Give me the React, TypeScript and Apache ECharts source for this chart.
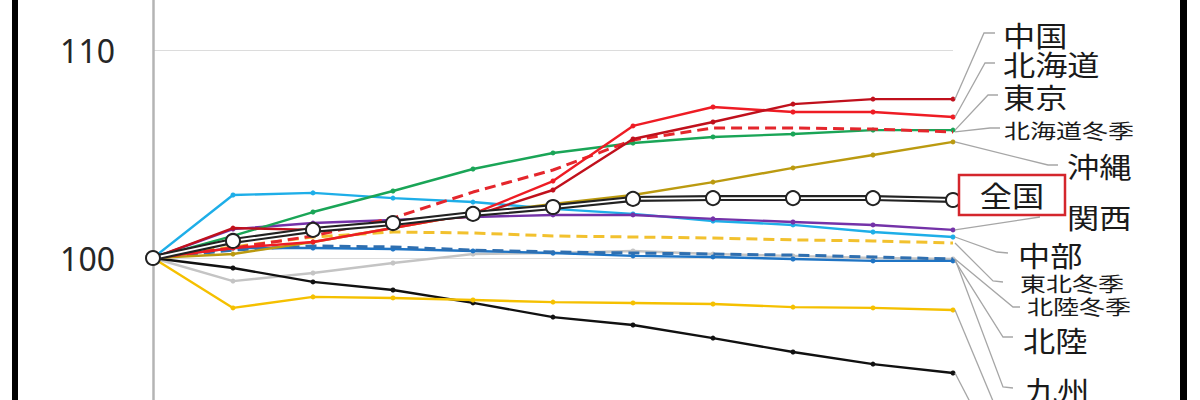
import { useEffect, useRef } from "react";
import * as echarts from "echarts";

// Index steps along the x axis (start = 100)
const steps = ["0", "1", "2", "3", "4", "5", "6", "7", "8", "9", "10"];

// Y axis labels that are shown
const yTickLabels = [100, 110];

// Index values per area
const chugoku = [100, 101.44, 101.35, 101.63, 102.02, 103.27, 105.72, 106.54, 107.4, 107.64, 107.64];
const hokkaido = [100, 100.48, 100.77, 101.44, 102.12, 103.7, 106.35, 107.26, 107.02, 107.02, 106.78];
const tokyo = [100, 101.06, 102.21, 103.22, 104.28, 105.05, 105.53, 105.82, 105.96, 106.15, 106.15];
const hokkaidoWinter = [100, 100.48, 101.06, 101.92, 103.17, 104.23, 105.67, 106.25, 106.25, 106.2, 106.06];
const okinawa = [100, 100.19, 100.77, 101.44, 102.12, 102.6, 103.03, 103.65, 104.33, 104.95, 105.58];
const zenkoku = [100, 100.82, 101.35, 101.68, 102.12, 102.45, 102.84, 102.88, 102.88, 102.88, 102.79];
const kansai = [100, 101.39, 101.68, 101.83, 101.97, 102.07, 102.07, 101.88, 101.73, 101.59, 101.35];
const chubu = [100, 103.03, 103.13, 102.88, 102.69, 102.36, 102.12, 101.78, 101.59, 101.25, 101.01];
const tohokuWinter = [100, 100.53, 101.01, 101.25, 101.2, 101.06, 101.01, 100.96, 100.87, 100.82, 100.72];
const hokurikuWinter = [100, 100.38, 100.58, 100.53, 100.38, 100.29, 100.24, 100.19, 100.14, 100.05, 99.95];
const hokuriku = [100, 100.48, 100.48, 100.43, 100.34, 100.24, 100.1, 100.05, 99.95, 99.86, 99.86];
const kyushu = [100, 98.89, 99.28, 99.76, 100.19, 100.24, 100.34, 100.19, 100.1, 100, 99.95];
const tohoku = [100, 97.6, 98.13, 98.08, 97.98, 97.88, 97.84, 97.79, 97.64, 97.6, 97.5];
const shikoku = [100, 99.52, 98.85, 98.46, 97.84, 97.16, 96.78, 96.15, 95.48, 94.9, 94.47];

type AreaLine = { name: string; data: number[]; color: string; dashed?: boolean };

// Drawing order: later entries sit on top
const areaLines: AreaLine[] = [
  { name: "九州", data: kyushu, color: "#c4c4c4" },
  { name: "四国", data: shikoku, color: "#111111" },
  { name: "東北", data: tohoku, color: "#f5c000" },
  { name: "北陸", data: hokuriku, color: "#1f74c4" },
  { name: "北陸冬季", data: hokurikuWinter, color: "#2f6fb0", dashed: true },
  { name: "東北冬季", data: tohokuWinter, color: "#f2c12e", dashed: true },
  { name: "中部", data: chubu, color: "#1eaee8" },
  { name: "関西", data: kansai, color: "#7432a8" },
  { name: "沖縄", data: okinawa, color: "#bb9a10" },
  { name: "東京", data: tokyo, color: "#1aa557" },
  { name: "北海道冬季", data: hokkaidoWinter, color: "#e4262c", dashed: true },
  { name: "北海道", data: hokkaido, color: "#ee1c24" },
  { name: "中国", data: chugoku, color: "#c0101c" },
];

// End labels (page coordinates): left edge, vertical centre, size, guide line bend
type EndLabel = {
  name: string;
  left: number;
  cy: number;
  big: boolean;
  knee?: [number, number];
  anchor: [number, number];
};

const endLabels: EndLabel[] = [
  { name: "中国", left: 1003, cy: 35, big: true, knee: [984, 33], anchor: [995, 33] },
  { name: "北海道", left: 1003, cy: 64, big: true, knee: [985, 63], anchor: [995, 63] },
  { name: "東京", left: 1003, cy: 97, big: true, knee: [988, 95], anchor: [998, 95] },
  { name: "北海道冬季", left: 1004, cy: 130, big: false, knee: [990, 128], anchor: [1000, 128] },
  { name: "沖縄", left: 1067, cy: 166, big: true, knee: [1048, 165], anchor: [1058, 165] },
  { name: "関西", left: 1067, cy: 217, big: true, anchor: [1040, 217] },
  { name: "中部", left: 1018, cy: 255, big: true, knee: [997, 252], anchor: [1008, 253] },
  { name: "東北冬季", left: 1020, cy: 283, big: false, knee: [993, 281], anchor: [1003, 282] },
  { name: "北陸冬季", left: 1027, cy: 306, big: false, knee: [1013, 307], anchor: [1020, 307] },
  { name: "北陸", left: 1023, cy: 340, big: true, knee: [1003, 337], anchor: [1013, 337] },
  { name: "九州", left: 1025, cy: 390, big: true, knee: [1003, 387], anchor: [1013, 388] },
];

// Guide lines whose labels sit below the visible area
const lowerGuides: { name: string; to: [number, number] }[] = [
  { name: "東北", to: [1003, 425] },
  { name: "四国", to: [982, 425] },
];

const FONT = '"Noto Sans CJK JP", "Noto Sans", sans-serif';

// The plot spans 90..120 at 20.8 px per unit; the page shows a 400 px high window of it
const PX_PER_UNIT = 20.8;
const Y_MIN = 90;
const Y_MAX = 120;
const CHART_H = (Y_MAX - Y_MIN) * PX_PER_UNIT;
const OFFSET = 50 - (Y_MAX - 110) * PX_PER_UNIT; // page y of the 120 line (negative)

export default function App() {
  const ref = useRef<HTMLDivElement>(null);

  useEffect(() => {
    if (!ref.current) return;
    const chart = echarts.init(ref.current, undefined, { renderer: "svg" });
    const dy = -OFFSET; // page -> chart y shift

    const series: any[] = areaLines.map((s, i) => ({
      type: "line",
      name: s.name,
      data: s.data,
      z: 2 + i * 0.01,
      silent: true,
      symbol: s.dashed ? "none" : "circle",
      symbolSize: 5,
      showSymbol: !s.dashed,
      itemStyle: { color: s.color },
      lineStyle: { color: s.color, width: s.dashed ? 3 : 2.4, type: s.dashed ? [11, 6] : "solid" },
    }));

    // 全国: double line with open circle markers
    series.push({
      type: "line",
      name: "全国",
      data: zenkoku,
      z: 3,
      silent: true,
      symbol: "none",
      lineStyle: { color: "#222222", width: 6 },
    });
    series.push({
      type: "line",
      name: "全国",
      data: zenkoku,
      z: 3.1,
      silent: true,
      symbol: "circle",
      symbolSize: 14,
      showSymbol: true,
      itemStyle: { color: "#ffffff", borderColor: "#222222", borderWidth: 2 },
      lineStyle: { color: "#ffffff", width: 1.8 },
    });

    chart.setOption({
      animation: false,
      backgroundColor: "#ffffff",
      grid: { left: 153, right: 247, top: 0, bottom: 0, containLabel: false },
      xAxis: {
        type: "category",
        data: steps,
        boundaryGap: false,
        axisLine: { show: false },
        axisTick: { show: false },
        axisLabel: { show: false },
        splitLine: { show: false },
      },
      yAxis: {
        type: "value",
        min: Y_MIN,
        max: Y_MAX,
        interval: 10,
        axisLine: { show: true, lineStyle: { color: "#b4b4b4", width: 2.5 } },
        axisTick: { show: false },
        axisLabel: {
          margin: 38,
          color: "#262626",
          fontSize: 32,
          fontFamily: '"Noto Sans", sans-serif',
          formatter: (v: number) => (yTickLabels.includes(v) ? String(v) : ""),
        },
        splitLine: { show: true, lineStyle: { color: "#dcdcdc", width: 1.2 } },
      },
      series,
    });

    const endPoint = (name: string): number[] => {
      const line = areaLines.find((s) => s.name === name)!.data;
      return chart.convertToPixel({ gridIndex: 0 }, [line.length - 1, line[line.length - 1]]) as number[];
    };
    const sh = (p: [number, number]) => [p[0], p[1] + dy];

    const graphics: any[] = [];

    // guide lines
    endLabels.forEach((l) => {
      const p = endPoint(l.name);
      const pts: number[][] = [[p[0] + 2, p[1]]];
      if (l.knee) pts.push(sh(l.knee));
      pts.push(sh(l.anchor));
      graphics.push({
        type: "polyline",
        z: 10,
        silent: true,
        shape: { points: pts },
        style: { stroke: "#a6a6a6", lineWidth: 1.3, fill: "none" },
      });
    });
    lowerGuides.forEach((g) => {
      const p = endPoint(g.name);
      graphics.push({
        type: "polyline",
        z: 10,
        silent: true,
        shape: { points: [[p[0] + 2, p[1]], sh(g.to)] },
        style: { stroke: "#a6a6a6", lineWidth: 1.3, fill: "none" },
      });
    });

    // label texts
    endLabels.forEach((l) => {
      graphics.push({
        type: "text",
        z: 12,
        silent: true,
        x: l.left,
        y: l.cy + dy,
        scaleX: l.big ? 1.15 : 1.3,
        style: {
          text: l.name,
          x: 0,
          y: 0,
          fill: "#1a1a1a",
          font: `${l.big ? 28 : 20}px ${FONT}`,
          textAlign: "left",
          textVerticalAlign: "middle",
          align: "left",
          verticalAlign: "middle",
        },
      });
    });

    // 全国 boxed label
    graphics.push({
      type: "rect",
      z: 12,
      silent: true,
      shape: { x: 959, y: 175 + dy, width: 106, height: 40 },
      style: { fill: "#ffffff", stroke: "#d4262c", lineWidth: 2.5 },
    });
    graphics.push({
      type: "text",
      z: 13,
      silent: true,
      x: 1012,
      y: 195 + dy,
      scaleX: 1.15,
      style: {
        text: "全国",
        x: 0,
        y: 0,
        fill: "#1a1a1a",
        font: `28px ${FONT}`,
        textAlign: "center",
        textVerticalAlign: "middle",
        align: "center",
        verticalAlign: "middle",
      },
    });

    // side frame bars
    graphics.push({
      type: "rect",
      z: 20,
      silent: true,
      shape: { x: 12, y: 0, width: 6, height: CHART_H },
      style: { fill: "#000000" },
    });
    graphics.push({
      type: "rect",
      z: 20,
      silent: true,
      shape: { x: 1180, y: 0, width: 7, height: CHART_H },
      style: { fill: "#000000" },
    });

    chart.setOption({ graphic: graphics });

    return () => chart.dispose();
  }, []);

  return (
    <div
      style={{
        position: "fixed",
        left: 0,
        top: 0,
        width: 1200,
        height: 400,
        overflow: "hidden",
        background: "#ffffff",
      }}
    >
      <div
        ref={ref}
        style={{ position: "absolute", left: 0, top: OFFSET, width: 1200, height: CHART_H }}
      />
    </div>
  );
}
